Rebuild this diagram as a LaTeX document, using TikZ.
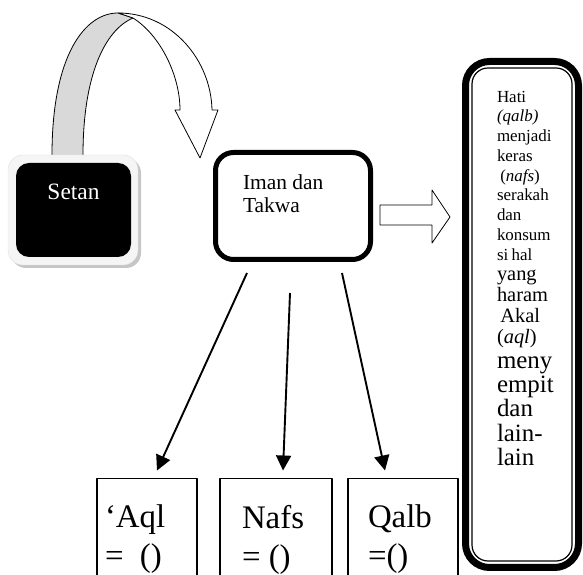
\documentclass[tikz,border=0pt]{standalone}
\usepackage{fontspec}
\setmainfont{Liberation Serif}
\usetikzlibrary{arrows.meta}
\begin{document}
\begin{tikzpicture}[>={Triangle[length=15bp,width=15bp]},line join=round,outer sep=0pt,
  bigbox/.style={draw,rounded corners=18bp},
  lowbox/.style={draw,line width=1.2bp,minimum height=107bp},
  lowtxt/.style={anchor=north west,align=left,inner sep=0pt,font=\fontsize{33}{39}\selectfont},
  link/.style={->,line width=1.9bp},]
\useasboundingbox (0bp,0bp) rectangle (583bp,575bp);
\clip (0bp,0bp) rectangle (583bp,575bp);
%%
\filldraw [fill=gray!30,line width=0.8bp] (52bp,414bp) -- (52bp,420bp) ..controls (52bp,520bp) and (85bp,562bp) .. (118bp,562bp) -- (133bp,557bp) ..controls (105bp,545bp) and (83bp,500bp) .. (83bp,420bp) -- (83bp,414bp) -- cycle;
\filldraw [fill=white,line width=0.8bp] (118bp,562bp) ..controls (172bp,562bp) and (211bp,515bp) .. (212bp,465bp) -- (218bp,465bp) -- (200bp,417bp) -- (175bp,465bp) -- (180bp,465bp) ..controls (180bp,500bp) and (160bp,540bp) .. (133bp,557bp) -- cycle;
\fill [gray!45,rounded corners=15bp] (11bp,307bp) rectangle (141bp,417bp);
\filldraw [fill=gray!8,draw=gray!25,rounded corners=15bp] (8bp,310bp) rectangle (138bp,420bp);
\node (node_setan) at (73.5bp,365bp) [fill=black,rounded corners=13bp,minimum width=115bp,minimum height=94bp,text=white,text height=16bp,text depth=37bp,font=\fontsize{23.5}{26}\selectfont] {Setan};
%
\node (node_iman) at (293bp,369bp) [bigbox,line width=5bp,minimum width=155bp,minimum height=107bp] {};
\node (node_iman_txt) at (243bp,400bp) [anchor=north west,align=left,inner sep=0pt,font=\fontsize{21.5}{22.5}\selectfont] {Iman dan\\Takwa};
\filldraw [fill=white,line width=0.8bp] (380bp,370bp) -- (432bp,370bp) -- (432bp,385bp) -- (450bp,358bp) -- (432bp,332bp) -- (432bp,350bp) -- (380bp,350bp) -- cycle;
%
\node (node_hati) at (522bp,260.5bp) [draw,line width=7bp,rounded corners=24bp,minimum width=113bp,minimum height=506bp] {};
\draw [line width=1.2bp,rounded corners=16bp] ([shift={(6.5bp,-6.5bp)}]node_hati.north west) rectangle ([shift={(-6.5bp,6.5bp)}]node_hati.south east);
\node (node_hati_txt) at (497bp,484bp) [anchor=north west,text width=75bp,inner sep=0pt,align=left] {\fontsize{17}{19.8}\selectfont Hati\par \textit{(qalb)}\par menjadi\par keras\par \ (\textit{nafs})\par serakah\par dan\par konsum\par si hal\par
  \fontsize{20.5}{21}\selectfont yang\par haram\par \ Akal\par (\textit{aql})\par
  \fontsize{25}{24.5}\selectfont meny\par empit\par dan\par lain-\par lain\par};
%
\node (node_aql) at (147bp,43bp) [lowbox,minimum width=100bp] {};
\node (node_nafs) at (276bp,43bp) [lowbox,minimum width=112bp] {};
\node (node_qalb) at (403bp,43bp) [lowbox,minimum width=110bp] {};
\node (node_aql_txt) at (105bp,70bp) [lowtxt] {‘Aql\\=~~()};
\node (node_nafs_txt) at (242bp,70bp) [lowtxt] {Nafs\\= ()};
\node (node_qalb_txt) at (368bp,70bp) [lowtxt] {Qalb\\=()};
\draw [link] ([xshift=-46bp,yshift=-13.5bp]node_iman.south) -- ([xshift=10bp,yshift=8bp]node_aql.north);
\draw [link] ([xshift=-3bp,yshift=-33.5bp]node_iman.south) -- ([xshift=7bp,yshift=8bp]node_nafs.north);
\draw [link] ([xshift=49bp,yshift=-13.5bp]node_iman.south) -- ([xshift=-18bp,yshift=8bp]node_qalb.north);
%
\end{tikzpicture}
\end{document}
